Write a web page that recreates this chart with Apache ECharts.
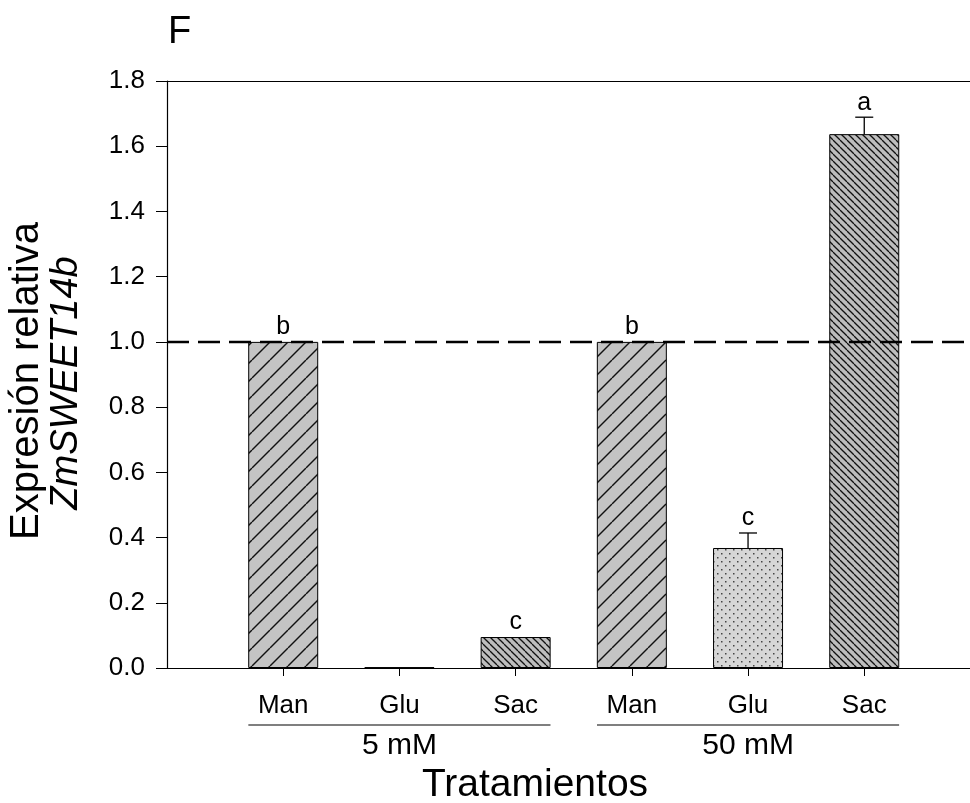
<!DOCTYPE html>
<html>
<head>
<meta charset="utf-8">
<script src="https://cdn.jsdelivr.net/npm/echarts@6/dist/echarts.min.js"></script>
<style>
  html, body { margin: 0; padding: 0; background: #fff; }
  #chart { width: 970px; height: 803px; }
</style>
</head>
<body>
<div id="chart"></div>
<script>
// datos
var treatments = ['Man', 'Glu', 'Sac', 'Man', 'Glu', 'Sac'];
var groups = ['5 mM', '50 mM'];
var expression = [1.0, 0.002, 0.095, 1.0, 0.368, 1.637];
var errors = [0, 0, 0, 0, 0.046, 0.052];
var letters = ['b', '', 'c', 'b', 'c', 'a'];

var FONT = '"Liberation Sans", Arial, sans-serif';

// patrones de relleno
function hatch(size, dir, bg, lw) {
    var c = document.createElement('canvas');
    c.width = size; c.height = size;
    var ctx = c.getContext('2d');
    ctx.fillStyle = bg;
    ctx.fillRect(0, 0, size, size);
    ctx.strokeStyle = '#111';
    ctx.lineWidth = lw;
    for (var k = -1; k <= 1; k++) {
        ctx.beginPath();
        if (dir === '/') {
            ctx.moveTo(k * size, size);
            ctx.lineTo(k * size + size, 0);
        } else {
            ctx.moveTo(k * size, 0);
            ctx.lineTo(k * size + size, size);
        }
        ctx.stroke();
    }
    return c;
}
function dots() {
    var c = document.createElement('canvas');
    c.width = 8; c.height = 8;
    var ctx = c.getContext('2d');
    ctx.fillStyle = '#d6d6d6';
    ctx.fillRect(0, 0, 8, 8);
    ctx.fillStyle = '#444';
    ctx.fillRect(1, 1, 1.5, 1.5);
    ctx.fillRect(5, 5, 1.5, 1.5);
    return c;
}
var fills = {
    Man: { image: hatch(18, '/', '#c4c4c4', 1.4), repeat: 'repeat' },
    Glu: { image: dots(), repeat: 'repeat' },
    Sac: { image: hatch(7, '\\', '#bdbdbd', 1.3), repeat: 'repeat' }
};

var xMax = 6.91;
var positions = treatments.map(function (t, i) { return i + 1; });

var barData = expression.map(function (v, i) {
    return {
        value: [positions[i], v],
        itemStyle: { color: fills[treatments[i]], borderColor: '#000', borderWidth: 1 }
    };
});
var errData = expression.map(function (v, i) { return [positions[i], v, errors[i]]; });
var groupData = groups.map(function (g, i) { return [positions[i * 3], positions[i * 3 + 2]]; });

var myChart = echarts.init(document.getElementById('chart'));

var option = {
    animation: false,
    grid: { left: 167, right: 0, top: 81, bottom: 135 },
    xAxis: [{
        type: 'value',
        min: 0,
        max: xMax,
        axisLine: { show: true, lineStyle: { color: '#000', width: 1.2 } },
        axisTick: { show: true, length: 8, customValues: positions, lineStyle: { color: '#000' } },
        axisLabel: {
            customValues: positions,
            margin: 25,
            fontFamily: FONT,
            fontSize: 26,
            color: '#000',
            formatter: function (v) { return treatments[Math.round(v) - 1]; }
        },
        splitLine: { show: false }
    }, {
        type: 'value',
        position: 'top',
        min: 0,
        max: xMax,
        axisLine: { show: true, lineStyle: { color: '#000', width: 1.2 } },
        axisTick: { show: false },
        axisLabel: { show: false },
        splitLine: { show: false }
    }],
    yAxis: {
        type: 'value',
        min: 0,
        max: 1.8,
        interval: 0.2,
        axisLine: { show: true, lineStyle: { color: '#000', width: 1.2 } },
        axisTick: { show: true, length: 11, lineStyle: { color: '#000' } },
        axisLabel: {
            margin: 22,
            fontFamily: FONT,
            fontSize: 26,
            color: '#000',
            formatter: function (v) { return v.toFixed(1); }
        },
        splitLine: { show: false }
    },
    series: [{
        type: 'bar',
        barWidth: 70,
        data: barData,
        markLine: {
            silent: true,
            symbol: 'none',
            label: { show: false },
            lineStyle: { color: '#000', width: 2.4, type: [22, 9] },
            data: [{ yAxis: 1 }]
        }
    }, {
        type: 'custom',
        data: errData,
        z: 5,
        renderItem: function (params, api) {
            var x = api.value(0), v = api.value(1), e = api.value(2);
            var base = api.coord([x, v]);
            var top = api.coord([x, v + e]);
            var kids = [];
            if (e > 0) {
                kids.push({ type: 'line', shape: { x1: base[0], y1: base[1], x2: top[0], y2: top[1] }, style: { stroke: '#000', lineWidth: 1.3 } });
                kids.push({ type: 'line', shape: { x1: top[0] - 9, y1: top[1], x2: top[0] + 9, y2: top[1] }, style: { stroke: '#000', lineWidth: 1.3 } });
            }
            kids.push({
                type: 'text',
                style: {
                    text: letters[params.dataIndex],
                    x: top[0], y: top[1] - 2,
                    align: 'center', verticalAlign: 'bottom',
                    font: '25px ' + FONT, fill: '#000'
                }
            });
            return { type: 'group', children: kids };
        }
    }, {
        type: 'custom',
        data: groupData,
        clip: false,
        renderItem: function (params, api) {
            var a = api.coord([api.value(0) - 0.3, 0]);
            var b = api.coord([api.value(1) + 0.3, 0]);
            var y = a[1] + 57;
            return {
                type: 'group',
                children: [{
                    type: 'line',
                    shape: { x1: a[0], y1: y, x2: b[0], y2: y },
                    style: { stroke: '#000', lineWidth: 1.2 }
                }, {
                    type: 'text',
                    style: {
                        text: groups[params.dataIndex],
                        x: (a[0] + b[0]) / 2, y: y + 6,
                        align: 'center', verticalAlign: 'top',
                        font: '30px ' + FONT, fill: '#000'
                    }
                }]
            };
        }
    }],
    graphic: [{
        type: 'text', left: 168, top: 14,
        style: { text: 'F', font: '38px ' + FONT, fill: '#000' }
    }, {
        type: 'text', x: 27, y: 381, rotation: Math.PI / 2,
        style: { text: 'Expresión relativa', font: '40px ' + FONT, fill: '#000', align: 'center', verticalAlign: 'middle' }
    }, {
        type: 'text', x: 66, y: 383, rotation: Math.PI / 2,
        style: { text: 'ZmSWEET14b', font: 'italic 38px ' + FONT, fill: '#000', align: 'center', verticalAlign: 'middle' }
    }, {
        type: 'text', x: 535, y: 785,
        style: { text: 'Tratamientos', font: '39px ' + FONT, fill: '#000', align: 'center', verticalAlign: 'middle' }
    }]
};
myChart.setOption(option);
</script>
</body>
</html>
